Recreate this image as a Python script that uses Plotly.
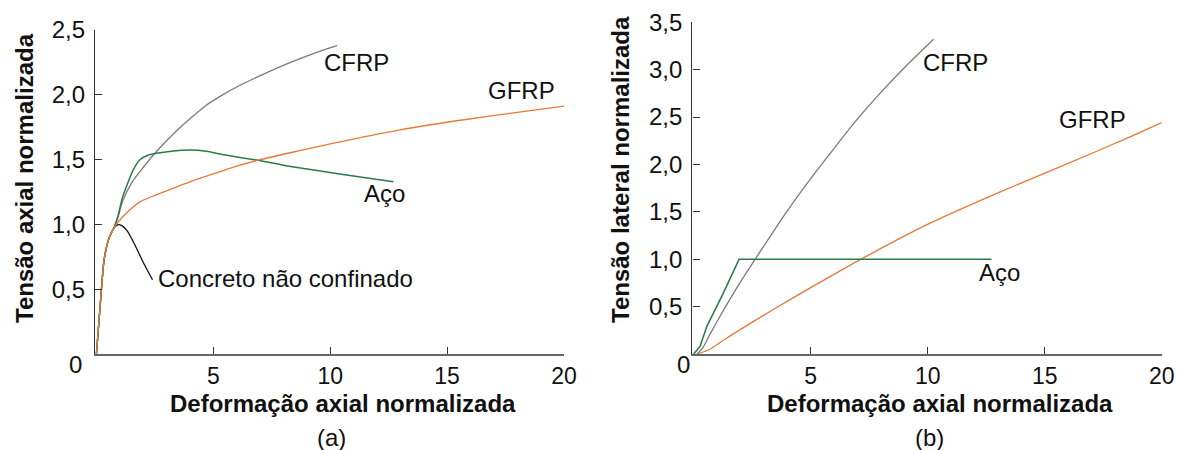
import plotly.graph_objects as go

# ---- (a) axial stress vs axial strain (normalised) ----
concreto_x = [0, 0.18, 0.33, 0.55, 0.75, 0.93, 1.1, 1.3, 1.6, 2.0, 2.4]
concreto_y = [0, 0.42, 0.73, 0.90, 0.975, 1.0, 0.99, 0.955, 0.86, 0.71, 0.575]

cfrp_a_x = [0, 0.18, 0.33, 0.55, 0.75, 0.93, 1.1, 1.5, 2.0, 2.5, 3.3, 4.0, 4.7, 5.4, 6.1, 6.85, 8.3, 9.7, 10.3]
cfrp_a_y = [0, 0.42, 0.73, 0.90, 0.975, 1.06, 1.17, 1.32, 1.44, 1.55, 1.70, 1.815, 1.92, 2.0, 2.07, 2.135, 2.25, 2.345, 2.38]

gfrp_a_x = [0, 0.18, 0.33, 0.55, 0.75, 0.93, 1.29, 1.86, 2.5, 3.0, 4.0, 5.0, 6.0, 7.0, 8.7, 10.2, 13.0, 15.8, 18.0, 20.0]
gfrp_a_y = [0, 0.42, 0.73, 0.90, 0.975, 1.02, 1.09, 1.175, 1.225, 1.26, 1.33, 1.39, 1.45, 1.50, 1.57, 1.63, 1.73, 1.81, 1.865, 1.914]

aco_a_x = [0, 0.18, 0.33, 0.55, 0.75, 0.93, 1.1, 1.57, 1.86, 2.2, 2.57, 3.3, 4.0, 4.7, 5.4, 6.85, 8.3, 10.4, 12.7]
aco_a_y = [0, 0.42, 0.73, 0.90, 0.975, 1.07, 1.2, 1.42, 1.50, 1.535, 1.549, 1.568, 1.575, 1.565, 1.54, 1.497, 1.448, 1.39, 1.33]

# ---- (b) lateral stress vs axial strain (normalised) ----
cfrp_b_x = [0.15, 0.4, 0.7, 1.2, 2.0, 3.0, 4.0, 5.0, 6.0, 7.0, 8.0, 9.0, 10.25]
cfrp_b_y = [0, 0.07, 0.21, 0.43, 0.76, 1.14, 1.51, 1.85, 2.17, 2.48, 2.76, 3.02, 3.32]

gfrp_b_x = [0.15, 0.7, 1.3, 2.0, 3.4, 5.0, 7.0, 10.1, 12.95, 15.8, 18.65, 20.0]
gfrp_b_y = [0, 0.05, 0.15, 0.26, 0.47, 0.70, 0.98, 1.38, 1.695, 1.99, 2.29, 2.44]

aco_b_x = [0, 0.27, 0.56, 1.26, 1.94, 12.73]
aco_b_y = [0, 0.08, 0.29, 0.64, 1.0, 1.0]

x_ticks = [5, 10, 15, 20]
y_ticks_a = [0.5, 1.0, 1.5, 2.0, 2.5]
y_ticks_b = [0.5, 1.0, 1.5, 2.0, 2.5, 3.0, 3.5]

GRAY = "#7a7a7a"
ORANGE = "#e5793a"
GREEN = "#2c7a4b"
FONT = "Liberation Sans, Arial, sans-serif"
FS = 24


def fmt(v):
    return f"{v:.1f}".replace(".", ",")


fig = go.Figure()


def add_line(x, y, color, xa, ya, width=1.3):
    fig.add_trace(go.Scatter(x=x, y=y, mode="lines", xaxis=xa, yaxis=ya,
                             line=dict(color=color, width=width, shape="spline", smoothing=0.6),
                             showlegend=False, hoverinfo="skip"))


add_line(concreto_x, concreto_y, "#111111", "x", "y")
add_line(cfrp_a_x, cfrp_a_y, GRAY, "x", "y")
add_line(aco_a_x, aco_a_y, GREEN, "x", "y", 1.5)
add_line(gfrp_a_x, gfrp_a_y, ORANGE, "x", "y")

add_line(gfrp_b_x, gfrp_b_y, ORANGE, "x2", "y2")
add_line(cfrp_b_x, cfrp_b_y, GRAY, "x2", "y2")
fig.add_trace(go.Scatter(x=aco_b_x, y=aco_b_y, mode="lines", xaxis="x2", yaxis="y2",
                         line=dict(color=GREEN, width=1.6), showlegend=False, hoverinfo="skip"))

W, H = 1177, 450

xaxis_common = dict(
    tickmode="array", tickvals=x_ticks, ticktext=[str(v) for v in x_ticks],
    ticks="inside", ticklen=7, tickwidth=1.3, tickcolor="#333",
    showline=True, linecolor="#666", linewidth=2, showgrid=False, zeroline=False,
    tickfont=dict(family=FONT, size=23, color="#111"), ticklabelstandoff=0,
    automargin=False, fixedrange=True,
)
yaxis_common = dict(
    ticks="inside", ticklen=7, tickwidth=1.3, tickcolor="#333",
    showline=True, linecolor="#333", linewidth=1.4, showgrid=False, zeroline=False,
    tickfont=dict(family=FONT, size=FS, color="#111"), ticklabelstandoff=4,
    automargin=False, fixedrange=True,
)

fig.update_layout(
    width=W, height=H, margin=dict(l=0, r=0, t=0, b=0),
    paper_bgcolor="white", plot_bgcolor="white",
    xaxis=dict(**xaxis_common, domain=[95 / W, 564 / W], range=[-0.06, 20], anchor="y"),
    yaxis=dict(**yaxis_common, domain=[(H - 354.3) / H, (H - 30) / H], range=[0, 2.5],
               tickmode="array", tickvals=y_ticks_a, ticktext=[fmt(v) for v in y_ticks_a], anchor="x"),
    xaxis2=dict(**xaxis_common, domain=[692.3 / W, 1161.7 / W], range=[-0.06, 20], anchor="y2"),
    yaxis2=dict(**yaxis_common, domain=[(H - 354) / H, (H - 22.2) / H], range=[0, 3.5],
                tickmode="array", tickvals=y_ticks_b, ticktext=[fmt(v) for v in y_ticks_b], anchor="x2"),
)


def px_note(text, x, y, size=FS, bold=False, xanchor="left", angle=0):
    fig.add_annotation(text=f"<b>{text}</b>" if bold else text, x=x / W, y=1 - y / H,
                       xref="paper", yref="paper", showarrow=False, xanchor=xanchor,
                       yanchor="middle", textangle=angle,
                       font=dict(family=FONT, size=size, color="#111"))


# series labels
px_note("CFRP", 322, 62)
px_note("GFRP", 486, 91)
px_note("Aço", 362, 193)
px_note("Concreto não confinado", 156, 278)
px_note("CFRP", 921, 62)
px_note("GFRP", 1057, 120)
px_note("Aço", 977, 272)

# origin labels
px_note("0", 75, 364, xanchor="center")
px_note("0", 683, 364, xanchor="center")

# axis titles
px_note("Deformação axial normalizada", 343, 403, bold=True, xanchor="center")
px_note("Deformação axial normalizada", 940, 403, bold=True, xanchor="center")
px_note("Tensão axial normalizada", 24, 178, bold=True, xanchor="center", angle=-90)
px_note("Tensão lateral normalizada", 620, 170, bold=True, xanchor="center", angle=-90)

# panel captions
px_note("(a)", 331, 437, xanchor="center")
px_note("(b)", 929, 437, xanchor="center")

fig.write_html("out.html")
